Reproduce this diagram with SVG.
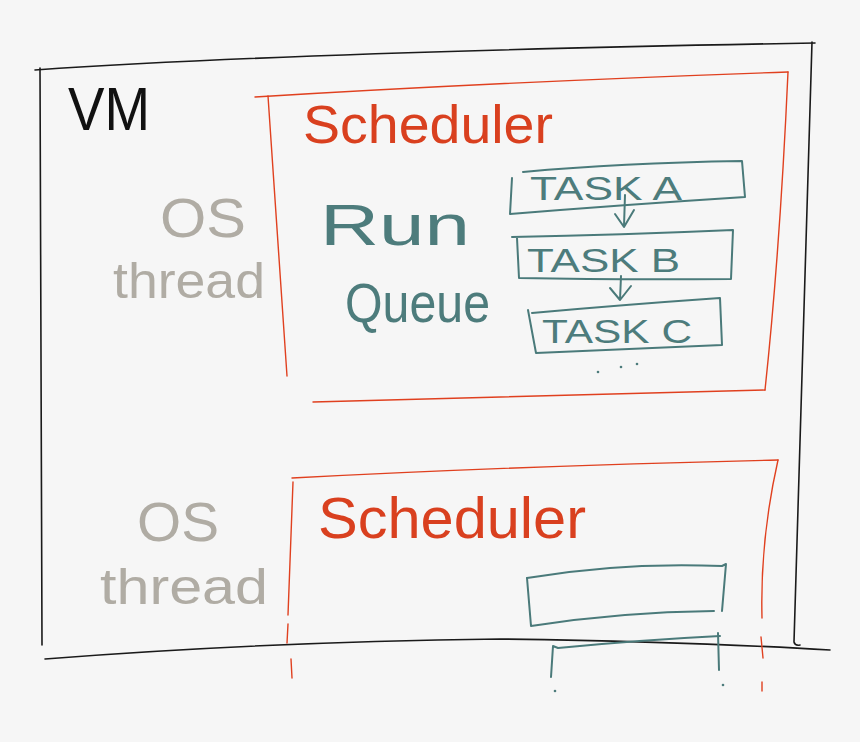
<svg xmlns="http://www.w3.org/2000/svg" width="860" height="742" viewBox="0 0 860 742">
<style>
.k{fill:none;stroke:#1a1a1a;stroke-width:1.6;stroke-linecap:round;stroke-linejoin:round}
.r{fill:none;stroke:#e0401f;stroke-width:1.4;stroke-linecap:round;stroke-linejoin:round}
.t{fill:none;stroke:#4a7a7a;stroke-width:2;stroke-linecap:round;stroke-linejoin:round}
.tx{font-family:"Liberation Sans","DejaVu Sans",sans-serif;font-weight:normal}
.g{fill:#b0aca4}
.rt{fill:#d9401f}
.tt{fill:#4d7c7c}
.kt{fill:#111}
</style>
<rect width="860" height="742" fill="#f6f6f6"/>
<g id="vm">
<path class="k" d="M35 70 Q300 52 815 43"/>
<path class="k" d="M40 68 L42 645"/>
<path class="k" d="M812 42 L794 642 Q795 646 800 645"/>
<path class="k" d="M45 659 Q260 642 500 639 Q700 642 830 650"/>
<text class="tx kt" x="68" y="130" font-size="62" textLength="82" lengthAdjust="spacingAndGlyphs">VM</text>
</g>
<g id="os-thread-1">
<text class="tx g" x="160" y="237" font-size="56" textLength="86" lengthAdjust="spacingAndGlyphs">OS</text>
<text class="tx g" x="113" y="298" font-size="50" textLength="152" lengthAdjust="spacingAndGlyphs">thread</text>
</g>
<g id="os-thread-2">
<text class="tx g" x="137" y="541" font-size="56" textLength="82" lengthAdjust="spacingAndGlyphs">OS</text>
<text class="tx g" x="100" y="604" font-size="50" textLength="168" lengthAdjust="spacingAndGlyphs">thread</text>
</g>
<g id="scheduler-1">
<path class="r" d="M255 97 Q500 82 788 72"/>
<path class="r" d="M268 96 L287 376"/>
<path class="r" d="M788 72 Q780 250 765 390"/>
<path class="r" d="M313 402 Q540 396 765 390"/>
<text class="tx rt" x="303" y="143" font-size="54" textLength="250" lengthAdjust="spacingAndGlyphs">Scheduler</text>
</g>
<g id="run-queue">
<text class="tx tt" x="320" y="245" font-size="58" textLength="150" lengthAdjust="spacingAndGlyphs">Run</text>
<text class="tx tt" x="345" y="322" font-size="56" textLength="145" lengthAdjust="spacingAndGlyphs">Queue</text>
</g>
<g id="task-a">
<path class="t" d="M512 178 L510 214 Q620 205 745 197 L742 161 Q620 163 523 172"/>
<text class="tx tt" x="530" y="200" font-size="34" textLength="152" lengthAdjust="spacingAndGlyphs">TASK A</text>
</g>
<g id="task-b">
<path class="t" d="M517 238 L519 278 Q620 280 731 279 L733 230 Q620 235 512 237"/>
<text class="tx tt" x="527" y="272" font-size="34" textLength="153" lengthAdjust="spacingAndGlyphs">TASK B</text>
</g>
<g id="task-c">
<path class="t" d="M528 310 L536 353 Q630 349 722 345 L720 298 Q620 305 532 313"/>
<text class="tx tt" x="542" y="343" font-size="34" textLength="150" lengthAdjust="spacingAndGlyphs">TASK C</text>
<circle cx="598" cy="372" r="1.3" fill="#4d7c7c"/>
<circle cx="621" cy="367" r="1.3" fill="#4d7c7c"/>
<circle cx="637" cy="364" r="1.3" fill="#4d7c7c"/>
</g>
<g id="scheduler-2">
<path class="r" d="M292 478 Q520 466 778 460"/>
<path class="r" d="M293 482 L288 615"/>
<path class="r" d="M288 624 L287 643"/>
<path class="r" d="M291 659 L292 678"/>
<path class="r" d="M778 460 Q760 540 762 618"/>
<path class="r" d="M761 637 L763 658"/>
<path class="r" d="M762 682 L762 691"/>
<text class="tx rt" x="318" y="538" font-size="58" textLength="268" lengthAdjust="spacingAndGlyphs">Scheduler</text>
</g>
<g id="task-empty">
<path class="t" d="M527 578 Q620 562 722 566 L726 564 L722 611"/>
<path class="t" d="M527 578 L531 626 Q620 612 714 611"/>
</g>
<g id="task-partial">
<path class="t" d="M551 677 L553 646 L558 648 Q640 640 720 636"/>
<path class="t" d="M718 633 L719 670"/>
<circle cx="555" cy="691" r="1.3" fill="#4d7c7c"/>
<circle cx="723" cy="685" r="1.3" fill="#4d7c7c"/>
</g>
<g id="connectors">
<path class="t" d="M625 195 L624 226 M615 214 L624 227 L634 210"/>
<path class="t" d="M621 276 L620 300 M610 288 L620 300 L631 286"/>
</g>
</svg>
